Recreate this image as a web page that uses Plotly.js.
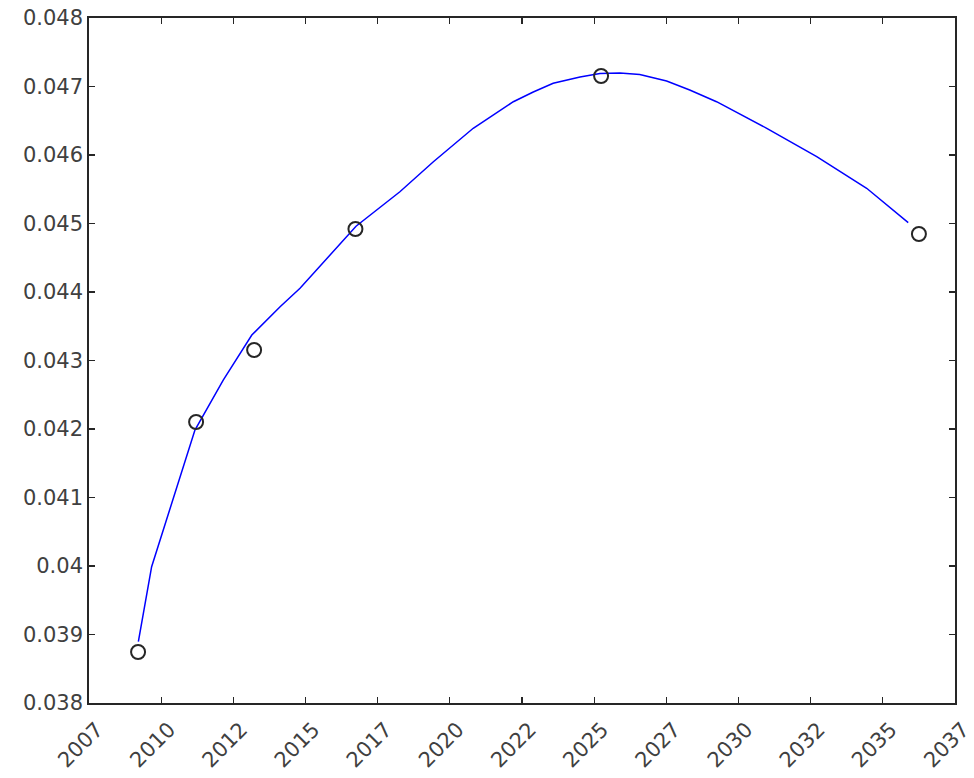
<!DOCTYPE html>
<html>
<head>
<meta charset="utf-8">
<script src="https://cdn.plot.ly/plotly-3.0.1.min.js"></script>
<style>html,body{margin:0;padding:0;background:#fff;}#chart{width:974px;height:778px;}</style>
</head>
<body>
<div id="chart"></div>
<script>
// Observed data points (open circles)
const pointYears = [2009.20, 2011.21, 2013.22, 2016.73, 2025.24, 2036.25];
const pointValues = [0.038745, 0.042102, 0.043153, 0.044920, 0.047153, 0.044847];

// Fitted curve (blue line)
const fitYears = [2009.21, 2009.67, 2011.17, 2012.15, 2013.14, 2014.12, 2014.81, 2016.75, 2018.27, 2019.43, 2020.81, 2021.51, 2022.20, 2022.89, 2023.58, 2024.51, 2025.20, 2025.89, 2026.58, 2027.51, 2028.31, 2029.24, 2030.98, 2032.71, 2034.44, 2035.88];
const fitValues = [0.038895, 0.039990, 0.041985, 0.042715, 0.043372, 0.043785, 0.044054, 0.044960, 0.045464, 0.045902, 0.046390, 0.046591, 0.046778, 0.046920, 0.047047, 0.047139, 0.047190, 0.047197, 0.047175, 0.047080, 0.046949, 0.046778, 0.046390, 0.045975, 0.045514, 0.045012];

// Axis ticks
const xTickVals = [2007.5, 2010, 2012.5, 2015, 2017.5, 2020, 2022.5, 2025, 2027.5, 2030, 2032.5, 2035, 2037.5];
const xTickText = ['2007', '2010', '2012', '2015', '2017', '2020', '2022', '2025', '2027', '2030', '2032', '2035', '2037'];
const yTickVals = [0.038, 0.039, 0.040, 0.041, 0.042, 0.043, 0.044, 0.045, 0.046, 0.047, 0.048];
const yTickText = ['0.038', '0.039', '0.04', '0.041', '0.042', '0.043', '0.044', '0.045', '0.046', '0.047', '0.048'];

const axisColor = '#262626';
const font = {family: 'DejaVu Sans, Liberation Sans, Arial, sans-serif', size: 21, color: '#404040'};

const traces = [
  {x: fitYears, y: fitValues, type: 'scatter', mode: 'lines',
   line: {color: '#0000ff', width: 1.5}, hoverinfo: 'skip'},
  {x: pointYears, y: pointValues, type: 'scatter', mode: 'markers',
   marker: {symbol: 'circle-open', size: 14, color: '#262626', line: {width: 2, color: '#262626'}}}
];

const layout = {
  width: 974, height: 778,
  margin: {l: 89, r: 19, t: 18, b: 75},
  showlegend: false,
  paper_bgcolor: '#ffffff', plot_bgcolor: '#ffffff',
  font: font,
  xaxis: {
    range: [2007.5, 2037.5], tickmode: 'array', tickvals: xTickVals, ticktext: xTickText,
    tickangle: -45, ticks: 'inside', ticklen: 6, tickwidth: 1.2, tickcolor: axisColor,
    ticklabelshift: 8, ticklabelstandoff: 4,
    showline: true, linecolor: axisColor, linewidth: 1.8, mirror: 'ticks',
    showgrid: false, zeroline: false, tickfont: font
  },
  yaxis: {
    range: [0.038, 0.048], tickmode: 'array', tickvals: yTickVals, ticktext: yTickText,
    ticks: 'inside', ticklen: 6, tickwidth: 1.2, tickcolor: axisColor,
    showline: true, linecolor: axisColor, linewidth: 1.8, mirror: 'ticks',
    showgrid: false, zeroline: false, tickfont: font
  }
};

Plotly.newPlot('chart', traces, layout, {displayModeBar: false, staticPlot: true});
</script>
</body>
</html>
